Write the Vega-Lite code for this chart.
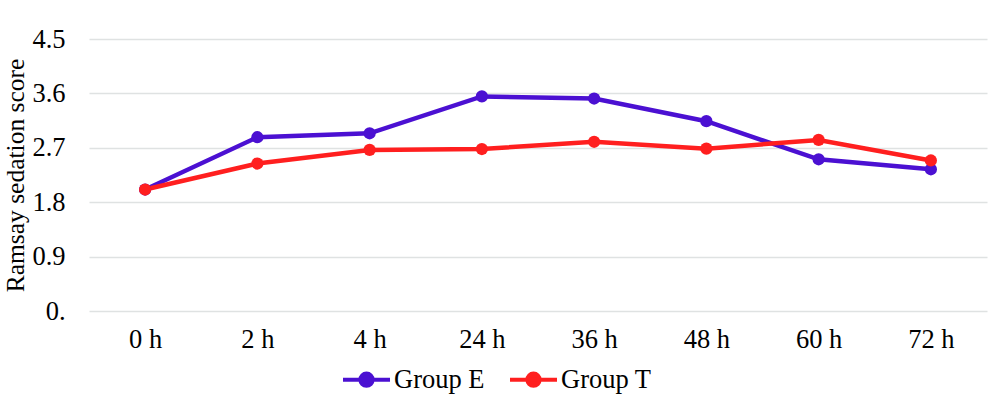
{
  "$schema": "https://vega.github.io/schema/vega-lite/v6.json",
  "width": 898,
  "height": 272,
  "autosize": "none",
  "padding": {"left": 89, "top": 39, "right": 2, "bottom": 95},
  "background": "white",
  "config": {
    "view": {"stroke": null},
    "font": "Liberation Serif",
    "axis": {"labelFont": "Liberation Serif", "titleFont": "Liberation Serif", "labelColor": "#000", "titleColor": "#000", "titleFontWeight": "normal"},
    "legend": {"labelFont": "Liberation Serif", "labelColor": "#000"}
  },
  "data": {
    "values": [
      {"time": "0 h", "group": "Group E", "score": 2.01},
      {"time": "2 h", "group": "Group E", "score": 2.875},
      {"time": "4 h", "group": "Group E", "score": 2.94},
      {"time": "24 h", "group": "Group E", "score": 3.55},
      {"time": "36 h", "group": "Group E", "score": 3.515},
      {"time": "48 h", "group": "Group E", "score": 3.14},
      {"time": "60 h", "group": "Group E", "score": 2.51},
      {"time": "72 h", "group": "Group E", "score": 2.345},
      {"time": "0 h", "group": "Group T", "score": 2.01},
      {"time": "2 h", "group": "Group T", "score": 2.44},
      {"time": "4 h", "group": "Group T", "score": 2.665},
      {"time": "24 h", "group": "Group T", "score": 2.68},
      {"time": "36 h", "group": "Group T", "score": 2.8},
      {"time": "48 h", "group": "Group T", "score": 2.686},
      {"time": "60 h", "group": "Group T", "score": 2.83},
      {"time": "72 h", "group": "Group T", "score": 2.49}
    ]
  },
  "encoding": {
    "x": {
      "field": "time", "type": "ordinal", "sort": null,
      "scale": {"type": "point", "padding": 0.5},
      "axis": {"title": null, "labelAngle": 0, "labelFontSize": 26.5, "labelPadding": 15, "ticks": false, "domain": false, "grid": false}
    },
    "y": {
      "field": "score", "type": "quantitative",
      "scale": {"domain": [0, 4.5], "nice": false, "zero": true},
      "axis": {
        "title": "Ramsay sedation score", "titleFontSize": 25.5, "titlePadding": 3,
        "values": [0, 0.9, 1.8, 2.7, 3.6, 4.5],
        "labelExpr": "datum.value == 0 ? '0.' : format(datum.value, '.1f')",
        "labelFontSize": 26.5, "labelPadding": 24, "ticks": false, "domain": false,
        "grid": true, "gridColor": "#dfe2e2", "gridWidth": 1.5
      }
    },
    "color": {
      "field": "group", "type": "nominal",
      "scale": {"domain": ["Group E", "Group T"], "range": ["#4b10d2", "#ff1f1f"]},
      "legend": {
        "title": null, "orient": "none", "direction": "horizontal",
        "legendX": 252, "legendY": 315,
        "labelFontSize": 26.5, "labelOffset": 2, "columnPadding": 17,
        "symbolType": "M-1,0H1M0.26,0A0.26,0.26 0 1,1 -0.26,0A0.26,0.26 0 1,1 0.26,0Z",
        "symbolSize": 2209, "symbolStrokeWidth": 4,
        "symbolOpacity": 1
      }
    }
  },
  "layer": [
    {"mark": {"type": "line", "strokeWidth": 4.5}},
    {"mark": {"type": "point", "filled": true, "size": 150, "opacity": 1}}
  ]
}
